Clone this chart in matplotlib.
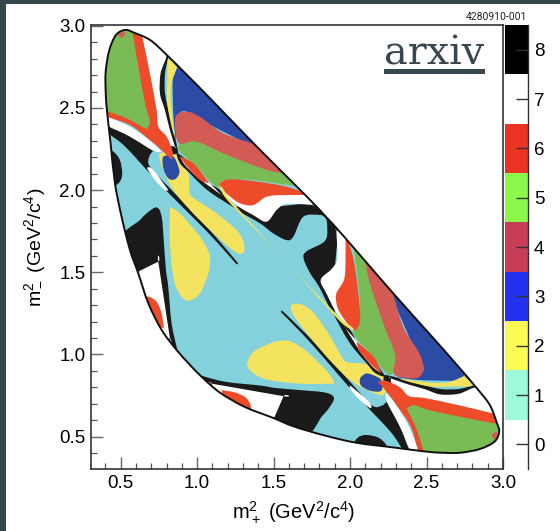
import numpy as np
import matplotlib
matplotlib.use('Agg')
import matplotlib.pyplot as plt
from matplotlib.colors import ListedColormap
from matplotlib.patches import PathPatch, Rectangle
from matplotlib.path import Path
from matplotlib.ticker import MultipleLocator

plt.rcParams['font.family'] = 'Liberation Sans'
plt.rcParams['mathtext.fontset'] = 'custom'
plt.rcParams['mathtext.rm'] = 'Liberation Sans'
plt.rcParams['mathtext.it'] = 'Liberation Sans'
plt.rcParams['mathtext.default'] = 'regular'

BLACK = '#1a1a1a'
WHITE = '#ffffff'
AQUA = '#82d1dd'
GREEN = '#79bc56'
RED = '#ee4b2b'
SALMON = '#d35b56'
NAVY = '#2c4ba5'
YELLOW = '#f3e35f'
SLATE = '#37474f'

# bin colours on the scale, 0 to 8
bin_values = [0, 1, 2, 3, 4, 5, 6, 7, 8]
bin_colors = ['#ffffff', '#9dfbdc', '#fdfc54', '#2432ef', '#c93c55',
              '#8cf94a', '#ea3323', '#ffffff', '#000000']

# upper half of the Dalitz boundary, (m+^2, m-^2), the rest is its mirror image
boundary = [(0.945, 0.945), (0.866, 1.027), (0.768, 1.149), (0.681, 1.311), (0.615, 1.494),
            (0.561, 1.635), (0.506, 1.838), (0.463, 2.04), (0.434, 2.285), (0.41, 2.488),
            (0.402, 2.60), (0.402, 2.72), (0.425, 2.85), (0.47, 2.945), (0.53, 2.975),
            (0.583, 2.96), (0.692, 2.914), (0.79, 2.833), (0.94, 2.695),
            (1.084, 2.559), (1.39, 2.265), (1.717, 1.961), (1.84, 1.84)]

# bin regions, a repeated point is a sharp corner
black_left = [(0.40, 2.244), (0.452, 2.234), (0.495, 2.183), (0.510, 2.102), (0.495, 2.052),
              (0.452, 2.021), (0.40, 2.021)]
black_lower = [(0.50, 1.70), (0.626, 1.818), (0.670, 1.859), (0.735, 1.895), (0.768, 1.838),
               (0.783, 1.676), (0.796, 1.514), (0.811, 1.412), (0.833, 1.189), (0.870, 1.030),
               (0.870, 1.030), (0.80, 1.06), (0.55, 1.45)]
white_lower = [(0.615, 1.504), (0.615, 1.504), (0.746, 1.565), (0.746, 1.565), (0.822, 1.098),
               (0.822, 1.098), (0.74, 1.10), (0.62, 1.30)]
red_lower = [(0.681, 1.352), (0.735, 1.321), (0.768, 1.250), (0.783, 1.159), (0.783, 1.159),
             (0.70, 1.20), (0.65, 1.33)]
black_band = [(0.40, 2.41), (0.561, 2.326), (0.713, 2.240), (0.713, 2.240), (0.687, 2.204),
              (0.691, 2.143), (0.822, 2.011), (0.997, 1.842), (1.127, 1.710), (1.269, 1.554),
              (1.269, 1.554), (1.258, 1.548), (1.258, 1.548), (1.127, 1.686), (0.997, 1.812),
              (0.822, 1.974), (0.670, 2.123), (0.582, 2.214), (0.506, 2.285), (0.41, 2.356)]
white_sliver = [(0.674, 2.133), (0.713, 2.123), (0.811, 2.001), (0.811, 2.001), (0.790, 2.001),
                (0.724, 2.062)]
yellow_big = [(0.822, 1.899), (0.822, 1.899), (0.888, 1.859), (1.018, 1.717), (1.079, 1.615),
              (1.084, 1.554), (1.073, 1.493), (1.018, 1.371), (0.936, 1.327), (0.877, 1.382),
              (0.844, 1.473), (0.822, 1.676)]
yellow_tongue = [(0.757, 2.224), (0.779, 2.123), (0.844, 2.001), (0.953, 1.879), (1.106, 1.737),
                 (1.247, 1.625), (1.302, 1.619), (1.306, 1.676), (1.258, 1.757), (1.127, 1.859),
                 (0.997, 1.940), (0.953, 1.980), (0.942, 2.102), (0.888, 2.204)]
navy_center = [(0.779, 2.204), (0.844, 2.204), (0.877, 2.143), (0.883, 2.102), (0.855, 2.066),
               (0.811, 2.072), (0.779, 2.133)]
black_right = [(0.77, 2.85), (0.81, 2.82), (0.790, 2.711), (0.790, 2.590), (0.822, 2.447),
               (0.855, 2.326), (0.877, 2.224), (0.877, 2.224), (0.833, 2.224), (0.811, 2.305),
               (0.78, 2.47), (0.745, 2.60), (0.745, 2.72)]
white_right = [(0.62, 3.0), (0.72, 2.95), (0.80, 2.84), (0.761, 2.711), (0.757, 2.589),
               (0.789, 2.488), (0.822, 2.366), (0.855, 2.265), (0.855, 2.265), (0.75, 2.30),
               (0.70, 2.50), (0.62, 2.90)]
white_left = [(0.40, 2.447), (0.561, 2.386), (0.691, 2.301), (0.768, 2.234), (0.768, 2.234),
              (0.713, 2.240), (0.561, 2.326), (0.40, 2.40)]
red_band = [(0.40, 2.455), (0.561, 2.397), (0.691, 2.305), (0.768, 2.244), (0.833, 2.183),
            (0.833, 2.183), (0.840, 2.234), (0.800, 2.326), (0.746, 2.386), (0.735, 2.488),
            (0.691, 2.711), (0.648, 2.904), (0.626, 2.99), (0.57, 3.0), (0.55, 2.7),
            (0.60, 2.50), (0.40, 2.52)]
green_lobe = [(0.38, 2.49), (0.539, 2.437), (0.670, 2.370), (0.670, 2.370), (0.691, 2.417),
              (0.659, 2.529), (0.615, 2.752), (0.582, 2.935), (0.571, 3.0), (0.452, 3.016),
              (0.364, 2.833), (0.364, 2.488)]
salmon_spot = [(0.484, 2.955), (0.528, 2.959), (0.517, 2.931), (0.495, 2.931)]
navy_upper = [(0.85, 2.78), (0.95, 2.80), (1.20, 2.56), (1.50, 2.26), (1.43, 2.23), (1.43, 2.23),
              (1.258, 2.315), (1.084, 2.397), (0.931, 2.478), (0.877, 2.447), (0.861, 2.305),
              (0.861, 2.305), (0.845, 2.447), (0.84, 2.671)]
yellow_upper = [(0.811, 2.797), (0.870, 2.748), (0.870, 2.748), (0.833, 2.650), (0.827, 2.549),
                (0.840, 2.427), (0.855, 2.315), (0.855, 2.315), (0.833, 2.386), (0.805, 2.529),
                (0.805, 2.691)]
green_right = [(0.975, 2.32), (1.18, 2.28), (1.45, 2.17), (1.58, 2.10), (1.67, 2.02), (1.67, 2.02),
               (1.520, 2.041), (1.345, 2.062), (1.193, 2.062), (1.149, 2.041), (1.138, 2.011),
               (1.138, 2.011), (1.073, 2.062), (1.018, 2.123), (0.920, 2.204), (0.877, 2.265)]
salmon_upper = [(0.931, 2.478), (1.018, 2.447), (1.171, 2.346), (1.44, 2.25), (1.60, 2.10),
                (1.60, 2.10), (1.454, 2.123), (1.171, 2.224), (0.997, 2.295), (0.883, 2.285),
                (0.855, 2.386), (0.866, 2.458)]
black_mid = [(1.25, 1.90), (1.25, 1.90), (1.50, 1.90), (1.75, 1.92), (1.83, 1.90), (1.835, 1.835),
             (1.835, 1.835), (1.803, 1.849), (1.694, 1.838), (1.629, 1.717), (1.585, 1.696),
             (1.498, 1.737), (1.411, 1.798), (1.280, 1.869)]
white_mid = [(1.160, 2.001), (1.258, 1.909), (1.367, 1.848), (1.454, 1.808), (1.520, 1.879),
             (1.585, 1.916), (1.755, 1.910), (1.755, 1.910), (1.74, 1.96), (1.50, 2.0), (1.25, 2.0)]
red_right = [(1.149, 2.041), (1.215, 2.066), (1.389, 2.052), (1.585, 2.021), (1.74, 1.97),
             (1.74, 1.97), (1.563, 1.970), (1.454, 1.960), (1.367, 1.909), (1.280, 1.920),
             (1.204, 1.970), (1.160, 2.011)]
black_center = [(0.870, 2.224), (0.953, 2.163), (1.040, 2.062), (1.149, 2.001), (1.269, 1.879),
                (1.269, 1.879), (1.127, 1.960), (1.040, 2.021), (0.953, 2.102), (0.888, 2.163)]
white_center = [(0.898, 2.194), (0.975, 2.143), (1.062, 2.062), (1.160, 1.970), (1.160, 1.970),
                (1.084, 2.021), (0.997, 2.082), (0.920, 2.153)]
red_center = [(0.888, 2.204), (0.975, 2.163), (1.040, 2.092), (1.079, 2.041), (1.079, 2.041),
              (1.018, 2.062), (0.953, 2.123), (0.909, 2.173)]
yellow_needle = [(1.160, 2.021), (1.236, 1.920), (1.509, 1.639), (1.509, 1.639), (1.226, 1.909),
                 (1.160, 1.991)]

regions = [(black_left, BLACK), (black_lower, BLACK), (white_lower, WHITE), (red_lower, RED),
           (black_band, BLACK), (white_sliver, WHITE), (yellow_big, YELLOW),
           (yellow_tongue, YELLOW), (navy_center, NAVY), (black_right, BLACK),
           (white_right, WHITE), (white_left, WHITE), (red_band, RED), (green_lobe, GREEN),
           (salmon_spot, SALMON), (navy_upper, NAVY), (yellow_upper, YELLOW),
           (green_right, GREEN), (salmon_upper, SALMON), (black_mid, BLACK), (white_mid, WHITE),
           (red_right, RED), (black_center, BLACK), (white_center, WHITE), (red_center, RED),
           (yellow_needle, YELLOW)]


def smooth(pts):
    # closed curve through the points
    p = np.array(pts, dtype=float)
    tan = (np.roll(p, -1, axis=0) - np.roll(p, 1, axis=0)) / 6
    verts = [p[0]]
    codes = [Path.MOVETO]
    for i in range(len(p)):
        j = (i + 1) % len(p)
        verts += [p[i] + tan[i], p[j] - tan[j], p[j]]
        codes += [Path.CURVE4, Path.CURVE4, Path.CURVE4]
    return Path(verts, codes)


fig = plt.figure(figsize=(5.6, 5.31), dpi=100)
W, H = 560.0, 531.0

# dark page edge
fig.patches.append(Rectangle((0, 0), 6 / W, 1, transform=fig.transFigure, color=SLATE, lw=0))
fig.patches.append(Rectangle((0, 1 - 4 / H), 1, 4 / H, transform=fig.transFigure, color=SLATE, lw=0))

ax = fig.add_axes([91 / W, 62 / H, 412 / W, 444 / H])
ax.set_xlim(0.306, 3.0)
ax.set_ylim(0.303, 3.005)

outline = boundary + [(y, x) for x, y in boundary[-2:0:-1]]
outline_path = smooth(outline)
base = PathPatch(outline_path, facecolor=AQUA, edgecolor='none', zorder=1)
ax.add_patch(base)

z = 2
for pts, col in regions:
    for shape in (pts, [(y, x) for x, y in pts]):
        patch = PathPatch(smooth(shape), facecolor=col, edgecolor='none', zorder=z)
        ax.add_patch(patch)
        patch.set_clip_path(base)
    z += 1

ax.add_patch(PathPatch(outline_path, facecolor='none', edgecolor='#111111', lw=1.4, zorder=z))

ax.xaxis.set_major_locator(MultipleLocator(0.5))
ax.xaxis.set_minor_locator(MultipleLocator(0.1))
ax.yaxis.set_major_locator(MultipleLocator(0.5))
ax.yaxis.set_minor_locator(MultipleLocator(0.1))
ax.tick_params(which='major', direction='in', length=8.6, width=1.0, color='#666666',
               labelsize=13.5, pad=4)
ax.tick_params(which='minor', direction='in', length=4.3, width=0.9, color='#555555')
for s in ax.spines.values():
    s.set_linewidth(1.2)
    s.set_color('#333333')
ax.set_xticks([0.5, 1.0, 1.5, 2.0, 2.5, 3.0])
ax.set_yticks([0.5, 1.0, 1.5, 2.0, 2.5, 3.0])

fig.text(294 / W, 1 - 512 / H, r'm$^2_+$ (GeV$^2$/c$^4$)', fontsize=14.5, ha='center', va='center')
fig.text(35 / W, 1 - 247 / H, r'm$^2_-$ (GeV$^2$/c$^4$)', fontsize=14, ha='center', va='center',
         rotation=90)

# colour scale
cax = fig.add_axes([505 / W, 62 / H, 23.3 / W, 444 / H])
cmap = ListedColormap(bin_colors)
cax.pcolormesh([0, 1], np.arange(-0.5, 9), np.array(bin_values).reshape(-1, 1), cmap=cmap,
               vmin=-0.5, vmax=8.5)
cax.set_xticks([])
cax.yaxis.tick_right()
cax.set_yticks(bin_values)
cax.tick_params(direction='in', length=8.6, width=1.0, color='#333333', labelsize=13.5, pad=4)
for name in ['left', 'top', 'bottom']:
    cax.spines[name].set_visible(False)
cax.spines['right'].set_linewidth(1.0)
cax.spines['right'].set_color('#333333')

fig.text(527 / W, 1 - 17 / H, '4280910-001', fontsize=7.5, family='Roboto', ha='right', va='center',
         color='#222222')
fig.text(434.5 / W, 1 - 65 / H, 'arxiv', fontsize=28.5, family='DejaVu Serif', ha='center',
         va='baseline', color=SLATE)
fig.patches.append(Rectangle((384 / W, 1 - 74 / H), 101 / W, 5 / H, transform=fig.transFigure,
                             color=SLATE, lw=0, zorder=5))

fig.savefig('out.png', dpi=100)
